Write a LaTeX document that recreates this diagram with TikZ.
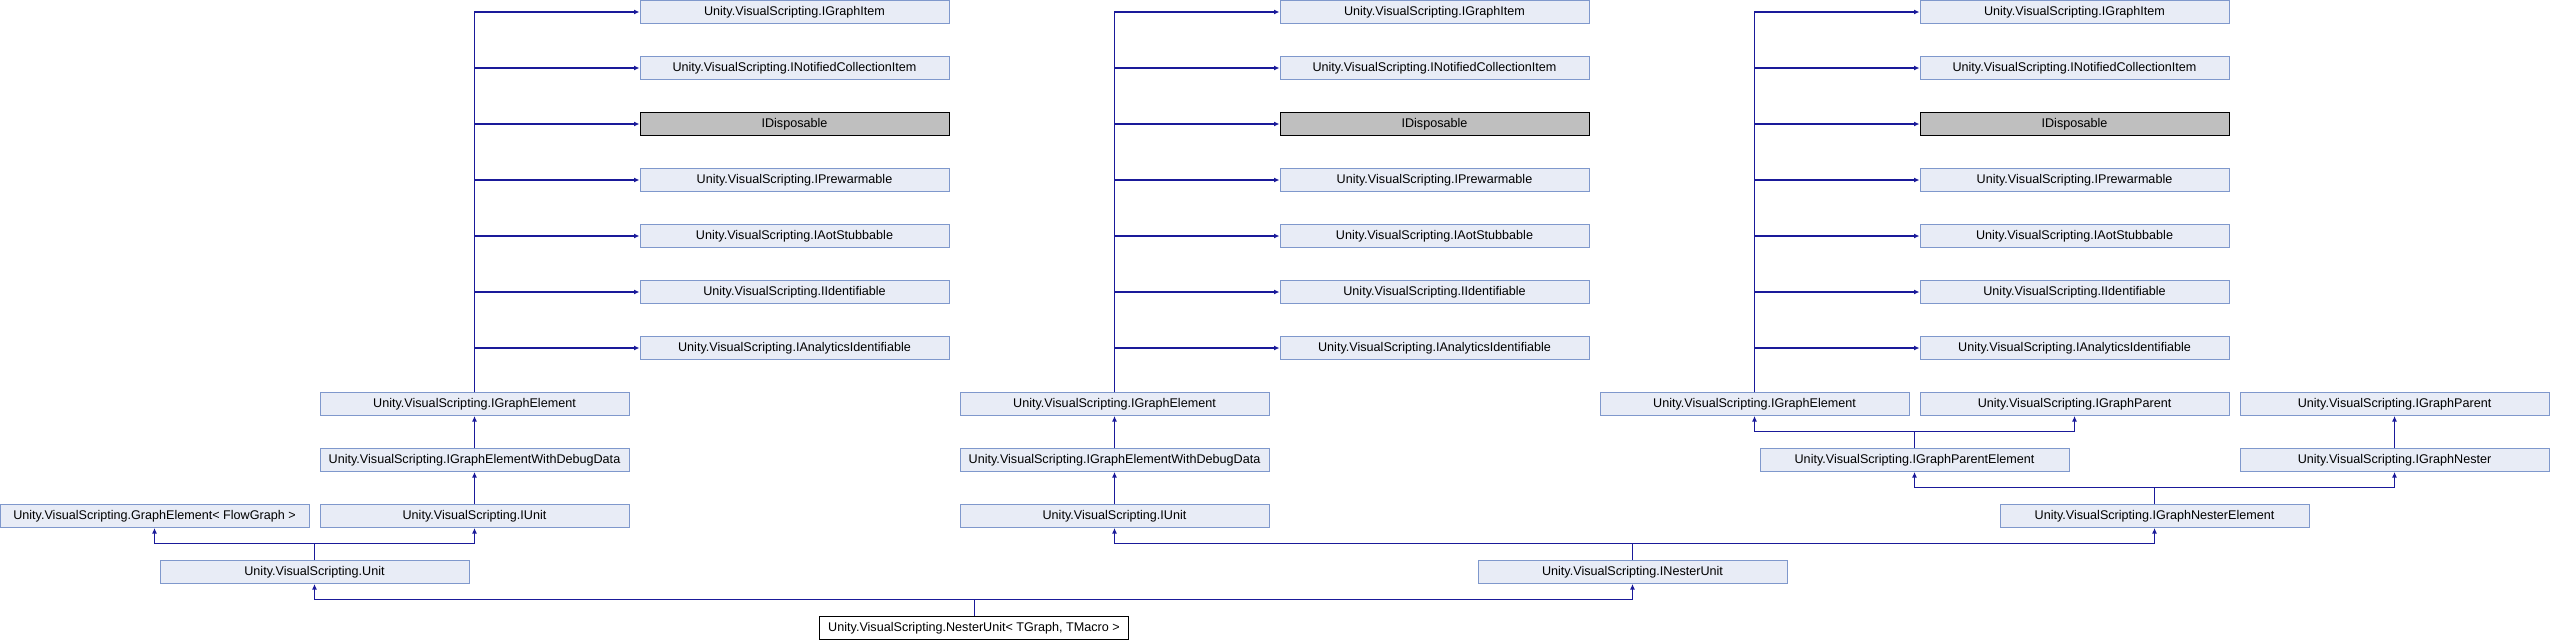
\documentclass[tikz,border=0pt]{standalone}
\usepackage{fontspec}
\setmainfont{Liberation Sans}
\usetikzlibrary{arrows.meta}
\definecolor{boxfill}{HTML}{E8ECF6}
\definecolor{boxline}{HTML}{7F98CC}
\definecolor{edgecol}{HTML}{1A1A9A}
\begin{document}
\begin{tikzpicture}[x=1pt,y=-1pt,
  cls/.style={draw=boxline,fill=boxfill,line width=1pt,minimum width=309pt,minimum height=23pt,inner sep=0pt,font=\fontsize{12.6}{14}\selectfont},
  ext/.style={cls,draw=black,fill=black!25},
  cur/.style={cls,draw=black,fill=white},
  edge/.style={draw=edgecol,line width=1.3pt,-{Latex[length=5.5pt,width=5pt]}},
  stub/.style={draw=edgecol,line width=0.9pt}]
\useasboundingbox (0,0) rectangle (2550,640);
% ---------- left column ----------
\node[cls] (a0) at (794.5,12) {Unity.VisualScripting.IGraphItem};
\node[cls] (a1) at (794.5,68) {Unity.VisualScripting.INotifiedCollectionItem};
\node[ext] (a2) at (794.5,124) {IDisposable};
\node[cls] (a3) at (794.5,180) {Unity.VisualScripting.IPrewarmable};
\node[cls] (a4) at (794.5,236) {Unity.VisualScripting.IAotStubbable};
\node[cls] (a5) at (794.5,292) {Unity.VisualScripting.IIdentifiable};
\node[cls] (a6) at (794.5,348) {Unity.VisualScripting.IAnalyticsIdentifiable};
\node[cls] (age) at (474.5,404) {Unity.VisualScripting.IGraphElement};
\node[cls] (adbg) at (474.5,460) {Unity.VisualScripting.IGraphElementWithDebugData};
\node[cls] (aunit) at (474.5,516) {Unity.VisualScripting.IUnit};
\node[cls] (gefg) at (154.5,516) {Unity.VisualScripting.GraphElement< FlowGraph >};
\node[cls] (unit) at (314.5,572) {Unity.VisualScripting.Unit};
% ---------- middle column ----------
\node[cls] (b0) at (1434.5,12) {Unity.VisualScripting.IGraphItem};
\node[cls] (b1) at (1434.5,68) {Unity.VisualScripting.INotifiedCollectionItem};
\node[ext] (b2) at (1434.5,124) {IDisposable};
\node[cls] (b3) at (1434.5,180) {Unity.VisualScripting.IPrewarmable};
\node[cls] (b4) at (1434.5,236) {Unity.VisualScripting.IAotStubbable};
\node[cls] (b5) at (1434.5,292) {Unity.VisualScripting.IIdentifiable};
\node[cls] (b6) at (1434.5,348) {Unity.VisualScripting.IAnalyticsIdentifiable};
\node[cls] (bge) at (1114.5,404) {Unity.VisualScripting.IGraphElement};
\node[cls] (bdbg) at (1114.5,460) {Unity.VisualScripting.IGraphElementWithDebugData};
\node[cls] (bunit) at (1114.5,516) {Unity.VisualScripting.IUnit};
\node[cls] (inu) at (1632.5,572) {Unity.VisualScripting.INesterUnit};
\node[cur] (nu) at (974,628) {Unity.VisualScripting.NesterUnit< TGraph, TMacro >};
% ---------- right column ----------
\node[cls] (c0) at (2074.5,12) {Unity.VisualScripting.IGraphItem};
\node[cls] (c1) at (2074.5,68) {Unity.VisualScripting.INotifiedCollectionItem};
\node[ext] (c2) at (2074.5,124) {IDisposable};
\node[cls] (c3) at (2074.5,180) {Unity.VisualScripting.IPrewarmable};
\node[cls] (c4) at (2074.5,236) {Unity.VisualScripting.IAotStubbable};
\node[cls] (c5) at (2074.5,292) {Unity.VisualScripting.IIdentifiable};
\node[cls] (c6) at (2074.5,348) {Unity.VisualScripting.IAnalyticsIdentifiable};
\node[cls] (cge) at (1754.5,404) {Unity.VisualScripting.IGraphElement};
\node[cls] (gp1) at (2074.5,404) {Unity.VisualScripting.IGraphParent};
\node[cls] (gp2) at (2394.5,404) {Unity.VisualScripting.IGraphParent};
\node[cls] (gpe) at (1914.5,460) {Unity.VisualScripting.IGraphParentElement};
\node[cls] (gn) at (2394.5,460) {Unity.VisualScripting.IGraphNester};
\node[cls] (gne) at (2154.5,516) {Unity.VisualScripting.IGraphNesterElement};
% ---------- junction points ----------
\coordinate (junit) at ([yshift=16.5pt]unit.north);
\coordinate (jnu) at ([yshift=16.5pt]nu.north);
\coordinate (jinu) at ([yshift=16.5pt]inu.north);
\coordinate (jgne) at ([yshift=16.5pt]gne.north);
\coordinate (jgpe) at ([yshift=16.5pt]gpe.north);
% ---------- edges ----------
\foreach \c in {a,b,c}{
  \foreach \k in {0,...,6}{
    \draw[edge] (\c ge.north) |- (\c\k.west);
  }
}
\draw[edge] (adbg) -- (age);
\draw[edge] (aunit) -- (adbg);
\draw[edge] (bdbg) -- (bge);
\draw[edge] (bunit) -- (bdbg);
\draw[stub] (unit.north) -- (junit);
\draw[edge] (junit) -| (gefg.south);
\draw[edge] (junit) -| (aunit.south);
\draw[stub] (nu.north) -- (jnu);
\draw[edge] (jnu) -| (unit.south);
\draw[edge] (jnu) -| (inu.south);
\draw[stub] (inu.north) -- (jinu);
\draw[edge] (jinu) -| (bunit.south);
\draw[edge] (jinu) -| (gne.south);
\draw[stub] (gne.north) -- (jgne);
\draw[edge] (jgne) -| (gpe.south);
\draw[edge] (jgne) -| (gn.south);
\draw[stub] (gpe.north) -- (jgpe);
\draw[edge] (jgpe) -| (cge.south);
\draw[edge] (jgpe) -| (gp1.south);
\draw[edge] (gn) -- (gp2);
\end{tikzpicture}
\end{document}
